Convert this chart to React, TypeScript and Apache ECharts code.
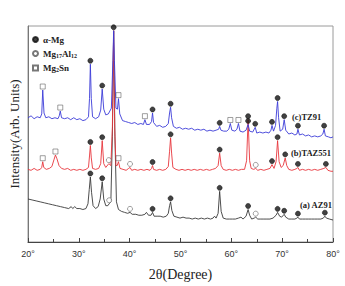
import React, { useEffect, useRef } from "react";
import * as echarts from "echarts";

// XRD patterns: [2θ (deg), intensity (arb.)]
const az91: [number, number][] = [
  [20.0,45],[20.8,44],[21.6,43],[22.4,42],[23.2,41],[24.0,40],[24.8,39],[25.6,38],[26.4,37],[27.2,36],[28.0,35],[28.5,37],[28.8,35],[29.2,37],[29.6,35],[30.2,35],[30.8,34],[31.4,35],[31.8,40],[32.05,55],[32.27,68],[32.5,52],[32.8,38],[33.3,35],[33.8,37],[34.2,45],[34.6,63],[34.9,45],[35.3,38],[35.7,38],[35.97,40],[36.3,42],[36.6,110],[36.85,221],[37.1,110],[37.4,42],[37.8,34],[38.4,32],[39.0,31],[39.6,30],[40.07,31],[40.5,29],[41.2,29],[41.8,28],[42.4,28],[43.0,29],[43.3,31],[43.7,28],[44.2,28],[44.5,31],[44.8,27],[45.4,27],[46.0,27],[46.6,26],[47.2,27],[47.6,30],[47.85,38],[48.05,42],[48.3,33],[48.7,27],[49.3,26],[49.9,25],[50.5,26],[51.1,25],[51.7,25],[52.3,24],[52.9,25],[53.5,24],[54.1,25],[54.7,24],[55.3,25],[55.9,24],[56.4,25],[56.7,27],[57.0,25],[57.4,30],[57.7,53],[58.0,32],[58.4,25],[59.0,24],[59.6,24],[60.2,24],[60.8,24],[61.4,25],[61.9,26],[62.3,24],[62.9,27],[63.3,34],[63.6,28],[64.0,24],[64.5,25],[64.8,26],[65.2,24],[65.8,24],[66.4,24],[67.0,24],[67.6,24],[68.2,25],[68.8,28],[69.1,31],[69.5,27],[69.9,26],[70.4,29],[70.7,26],[71.3,24],[71.9,24],[72.5,24],[72.9,25],[73.1,26],[73.4,24],[74.0,24],[74.6,24],[75.2,24],[75.8,24],[76.4,24],[77.0,24],[77.6,24],[78.1,25],[78.4,27],[78.7,25],[79.3,24],[80.0,23],
];

const taz551: [number, number][] = [
  [20.0,76],[20.6,75],[21.2,77],[21.8,75],[22.4,76],[22.7,78],[22.9,84],[23.1,78],[23.6,76],[24.2,77],[24.7,79],[25.1,86],[25.4,91],[25.7,87],[26.1,80],[26.6,77],[27.2,76],[27.8,77],[28.4,75],[29.0,76],[29.6,75],[30.2,76],[30.8,75],[31.4,76],[31.9,78],[32.1,90],[32.27,101],[32.45,88],[32.7,77],[33.3,76],[33.9,77],[34.3,82],[34.6,106],[34.9,82],[35.3,78],[35.9,82],[36.3,80],[36.6,120],[36.85,221],[37.05,120],[37.3,80],[37.55,80],[37.8,84],[38.1,77],[38.7,76],[39.3,75],[39.8,77],[40.07,78],[40.4,75],[41.0,76],[41.6,75],[42.2,76],[42.8,75],[43.4,76],[44.0,75],[44.3,77],[44.5,80],[44.7,76],[45.3,75],[45.9,76],[46.5,75],[47.1,76],[47.6,79],[47.85,95],[48.05,109],[48.25,93],[48.5,78],[49.1,76],[49.7,75],[50.3,76],[50.9,75],[51.5,76],[52.1,75],[52.7,76],[53.3,75],[53.9,76],[54.5,75],[55.1,76],[55.7,75],[56.3,76],[56.9,77],[57.4,80],[57.7,93],[58.0,80],[58.4,76],[59.0,75],[59.6,76],[60.2,75],[60.8,76],[61.4,75],[62.0,76],[62.6,76],[63.0,85],[63.3,128],[63.6,85],[63.9,77],[64.4,76],[64.8,77],[65.2,75],[65.8,76],[66.4,75],[67.0,76],[67.6,77],[68.0,81],[68.4,77],[68.8,84],[69.1,106],[69.4,84],[69.8,78],[70.2,80],[70.6,88],[70.9,80],[71.3,76],[71.9,75],[72.5,76],[72.9,77],[73.1,78],[73.4,75],[74.0,76],[74.6,75],[75.2,76],[75.8,75],[76.4,76],[77.0,75],[77.6,76],[78.2,77],[78.6,78],[79.0,75],[79.6,74],[80.0,74],
];

const tz91: [number, number][] = [
  [20.0,130],[20.6,132],[21.2,129],[21.8,131],[22.4,130],[22.7,134],[22.9,159],[23.15,135],[23.5,130],[24.1,131],[24.7,129],[25.3,130],[25.9,129],[26.15,132],[26.35,137],[26.6,130],[27.2,129],[27.8,130],[28.4,128],[29.0,130],[29.6,128],[30.2,129],[30.8,127],[31.4,128],[31.9,131],[32.1,150],[32.27,186],[32.45,150],[32.7,131],[33.3,129],[33.9,131],[34.3,138],[34.6,160],[34.9,139],[35.3,133],[35.8,134],[36.4,140],[36.7,190],[36.85,221],[37.0,190],[37.3,140],[37.6,139],[37.8,150],[38.05,134],[38.6,127],[39.2,126],[39.8,125],[40.4,124],[41.0,125],[41.6,123],[42.2,124],[42.7,123],[43.0,128],[43.3,123],[43.9,123],[44.3,126],[44.5,135],[44.7,125],[45.3,121],[45.9,122],[46.5,120],[47.1,121],[47.6,124],[47.85,135],[48.05,141],[48.25,130],[48.6,121],[49.2,119],[49.8,120],[50.4,118],[51.0,119],[51.6,118],[52.2,119],[52.8,117],[53.4,118],[54.0,117],[54.6,118],[55.2,116],[55.8,117],[56.4,116],[57.0,117],[57.5,118],[57.7,121],[57.95,117],[58.5,116],[59.1,116],[59.5,118],[59.8,124],[60.1,117],[60.7,116],[61.1,118],[61.4,124],[61.7,116],[62.3,115],[62.9,117],[63.3,123],[63.6,116],[64.2,115],[64.7,120],[65.0,114],[65.6,115],[66.2,114],[66.8,115],[67.4,114],[67.8,117],[68.0,122],[68.3,116],[68.7,122],[68.95,140],[69.1,147],[69.3,130],[69.6,116],[70.1,118],[70.4,128],[70.7,117],[71.3,113],[71.9,114],[72.5,112],[72.9,113],[73.1,118],[73.4,112],[74.0,113],[74.6,111],[75.2,112],[75.8,110],[76.4,111],[77.0,110],[77.6,111],[78.0,113],[78.25,118],[78.5,111],[79.1,110],[79.6,109],[80.0,110],
];

// Indexed reflections (peak positions and heights on each pattern)
const alphaMgPeaks: [number, number][] = [
  [32.27,68],[34.6,63],[36.85,221],[44.5,31],[48.05,42],[57.7,53],[63.3,34],[69.1,31],[70.4,29],[73.1,26],[78.4,27],
  [32.27,101],[34.6,106],[44.5,80],[48.05,109],[57.7,93],[63.3,128],[68.0,81],[69.1,106],[70.6,88],[73.1,78],[78.6,78],
  [32.27,186],[34.6,160],[44.5,135],[48.05,141],[57.7,121],[63.3,123],[64.7,120],[68.0,122],[69.1,147],[70.4,128],[73.1,118],[78.25,118],
];
const mg17al12Peaks: [number, number][] = [
  [35.97,40],[40.07,31],[64.8,26],
  [35.9,82],[40.07,78],[64.8,77],
];
const mg2snPeaks: [number, number][] = [
  [22.9,84],[25.4,91],[37.8,84],
  [22.9,159],[26.35,137],[37.8,150],[43.0,128],[59.8,124],[61.4,124],
];

const phaseNames = ["α-Mg", "Mg17Al12", "Mg2Sn"];
const xTicks = [20, 30, 40, 50, 60, 70, 80];

const serif = '"Liberation Serif", "DejaVu Serif", serif';

export default function App() {
  const ref = useRef<HTMLDivElement>(null);

  useEffect(() => {
    if (!ref.current) return;
    const chart = echarts.init(ref.current, undefined, { renderer: "svg" });

    const lineSeries = (name: string, data: [number, number][], color: string) => ({
      name,
      type: "line",
      data,
      symbol: "none",
      lineStyle: { color, width: 0.9 },
      z: 2,
    });

    const markerSeries = (name: string, data: [number, number][], symbol: string, fill: string, border: string) => ({
      name,
      type: "scatter",
      data,
      symbol,
      symbolSize: 5,
      symbolOffset: [0, -3.5],
      itemStyle: { color: fill, borderColor: border, borderWidth: 0.7 },
      z: 5,
    });

    chart.setOption({
      animation: false,
      grid: {
        left: 25,
        right: 12,
        top: 26,
        bottom: 34,
        show: true,
        borderColor: "#9a9a9a",
        borderWidth: 1,
      },
      legend: {
        data: phaseNames,
        orient: "vertical",
        left: 27,
        top: 30,
        itemWidth: 5,
        itemHeight: 5,
        itemGap: 5,
        selectedMode: false,
        textStyle: {
          fontFamily: serif,
          fontWeight: "bold",
          fontSize: 9,
          color: "#222",
          rich: {
            b: { fontFamily: serif, fontWeight: "bold", fontSize: 9, color: "#222" },
            s: { fontFamily: serif, fontWeight: "bold", fontSize: 6, color: "#222", padding: [4, 0, 0, 0] },
          },
        },
        formatter: (n: string) => {
          if (n === "Mg17Al12") return "{b|Mg}{s|17}{b|Al}{s|12}";
          if (n === "Mg2Sn") return "{b|Mg}{s|2}{b|Sn}";
          return "{b|" + n + "}";
        },
      },
      xAxis: {
        type: "value",
        min: 20,
        max: 80,
        interval: 10,
        name: "2θ(Degree)",
        nameLocation: "middle",
        nameGap: 25,
        nameTextStyle: { fontFamily: serif, fontSize: 14, color: "#222" },
        axisLine: { lineStyle: { color: "#444", width: 1 } },
        axisTick: { inside: true, length: 4, lineStyle: { color: "#444" } },
        minorTick: { show: true, splitNumber: 2, length: 3, lineStyle: { color: "#444" } },
        splitLine: { show: false },
        axisLabel: {
          fontFamily: '"Liberation Sans", Arial, sans-serif',
          fontSize: 9,
          color: "#333",
          margin: 7,
          showMinLabel: true,
          showMaxLabel: true,
          formatter: (v: number) => (xTicks.includes(v) ? v + "°" : ""),
        },
      },
      yAxis: {
        type: "value",
        min: 0,
        max: 226,
        name: "Intensity(Arb. Units)",
        nameLocation: "middle",
        nameRotate: 90,
        nameGap: 7,
        nameTextStyle: { fontFamily: serif, fontSize: 13, color: "#222" },
        axisLine: { show: true, lineStyle: { color: "#777", width: 1 } },
        axisTick: { show: false },
        axisLabel: { show: false },
        splitLine: { show: false },
      },
      graphic: [
        { type: "text", left: 292, top: 112, style: { text: "(c)TZ91", font: `bold 8.5px ${serif}`, fill: "#222" } },
        { type: "text", left: 291, top: 148, style: { text: "(b)TAZ551", font: `bold 8.5px ${serif}`, fill: "#222" } },
        { type: "text", left: 300, top: 200, style: { text: "(a) AZ91", font: `bold 8.5px ${serif}`, fill: "#222" } },
      ],
      series: [
        lineSeries("AZ91", az91, "#3a3a3a"),
        lineSeries("TAZ551", taz551, "#e8363c"),
        lineSeries("TZ91", tz91, "#3b3bd8"),
        markerSeries("α-Mg", alphaMgPeaks, "circle", "#111", "#111"),
        markerSeries("Mg17Al12", mg17al12Peaks, "circle", "#fff", "#555"),
        markerSeries("Mg2Sn", mg2snPeaks, "rect", "#fff", "#555"),
      ],
    });

    return () => chart.dispose();
  }, []);

  return (
    <div
      ref={ref}
      style={{ position: "fixed", left: 0, top: 0, width: 345, height: 286, background: "#fff" }}
    />
  );
}
